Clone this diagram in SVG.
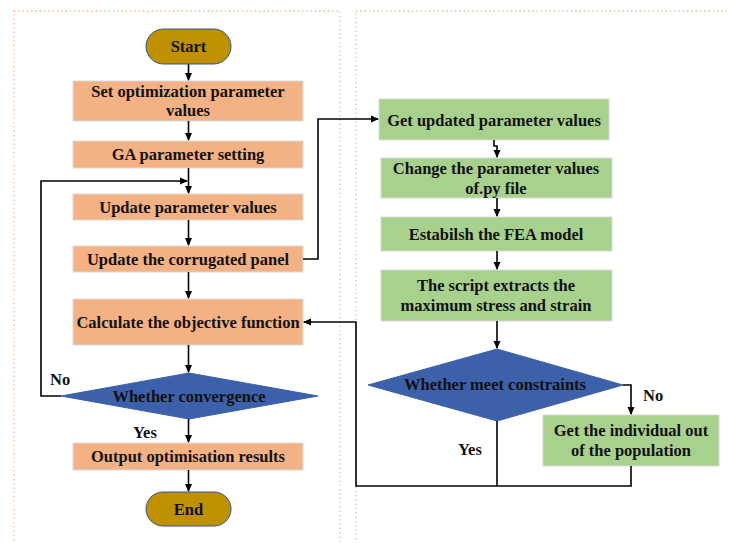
<svg xmlns="http://www.w3.org/2000/svg" width="729" height="543" viewBox="0 0 729 543">
<defs>
<marker id="ah" markerWidth="8" markerHeight="8" refX="7" refY="4" orient="auto" markerUnits="userSpaceOnUse">
<path d="M0,0.5 L8,4 L0,7.5 Z" fill="#000"/>
</marker>
<style>
text{font-family:"Liberation Serif","Times New Roman",serif;font-weight:bold;font-size:16.5px;fill:#111;text-anchor:middle;}
.o{fill:#F4B183;stroke:#d9d9d9;stroke-width:1;}
.g{fill:#A9D18E;stroke:#d9d9d9;stroke-width:1;}
.d{fill:#3C60AA;stroke:#3C60AA;stroke-width:1;}
.p{fill:#BF9000;stroke:#2F5597;stroke-width:1;}
.c{fill:none;stroke:#000;stroke-width:1.6;}
.lbl{text-anchor:start;}
</style>
</defs>
<rect x="14" y="11" width="326" height="545" fill="none" stroke="#F4B183" stroke-width="1.3" stroke-dasharray="1.3,3"/>
<rect x="356" y="11" width="390" height="545" fill="none" stroke="#A9D18E" stroke-width="1.3" stroke-dasharray="1.3,3"/>

<g id="start"><rect class="p" x="146" y="29" width="85" height="35" rx="17.5"/><text x="188.5" y="52">Start</text></g>
<g id="setopt"><rect class="o" x="73" y="81" width="230" height="40"/><text x="188" y="97">Set optimization parameter</text><text x="188" y="116">values</text></g>
<g id="ga"><rect class="o" x="73" y="141" width="230" height="27"/><text x="188" y="160">GA parameter setting</text></g>
<g id="update"><rect class="o" x="73" y="194" width="230" height="26"/><text x="188" y="213">Update parameter values</text></g>
<g id="panel"><rect class="o" x="73" y="246" width="230" height="26"/><text x="188" y="265">Update the corrugated panel</text></g>
<g id="objective"><rect class="o" x="73" y="299" width="230" height="46"/><text x="188" y="328">Calculate the objective function</text></g>
<g id="convergence"><polygon class="d" points="61,396 189,373 318,396 189,419"/><text x="189" y="402">Whether convergence</text></g>
<g id="output"><rect class="o" x="73" y="443" width="230" height="27"/><text x="188" y="462">Output optimisation results</text></g>
<g id="end"><rect class="p" x="146" y="492" width="85" height="34" rx="17"/><text x="188.5" y="515">End</text></g>

<g id="getupdated"><rect class="g" x="379" y="99" width="230" height="41"/><text x="494" y="126">Get updated parameter values</text></g>
<g id="change"><rect class="g" x="381" y="158" width="231" height="40"/><text x="496" y="174">Change the parameter values</text><text x="496" y="194">of.py file</text></g>
<g id="fea"><rect class="g" x="381" y="217" width="231" height="34"/><text x="496" y="240">Estabilsh the FEA model</text></g>
<g id="script"><rect class="g" x="381" y="270" width="231" height="51"/><text x="496" y="291">The script extracts the</text><text x="496" y="311">maximum stress and strain</text></g>
<g id="constraints"><polygon class="d" points="368,385 497,349 623,385 497,421"/><text x="495" y="390">Whether meet constraints</text></g>
<g id="individual"><rect class="g" x="543" y="415" width="176" height="51"/><text x="631" y="436">Get the individual out</text><text x="631" y="456">of the population</text></g>

<g id="connectors">
<path class="c" d="M188.5,64 V80" marker-end="url(#ah)"/>
<path class="c" d="M188.5,121 V140" marker-end="url(#ah)"/>
<path class="c" d="M188.5,168 V193" marker-end="url(#ah)"/>
<path class="c" d="M188.5,220 V245" marker-end="url(#ah)"/>
<path class="c" d="M188.5,272 V298" marker-end="url(#ah)"/>
<path class="c" d="M188.5,345 V372" marker-end="url(#ah)"/>
<path class="c" d="M188.5,419 V442" marker-end="url(#ah)"/>
<path class="c" d="M188.5,470 V491" marker-end="url(#ah)"/>
<path class="c" d="M61,396 H41 V181 H187" marker-end="url(#ah)"/>
<path class="c" d="M303,259 H318 V119 H378" marker-end="url(#ah)"/>
<path class="c" d="M494,140 V146 H497 V157" marker-end="url(#ah)"/>
<path class="c" d="M497,198 V216" marker-end="url(#ah)"/>
<path class="c" d="M497,251 V269" marker-end="url(#ah)"/>
<path class="c" d="M497,321 V348" marker-end="url(#ah)"/>
<path class="c" d="M623,385 H631 V414" marker-end="url(#ah)"/>
<path class="c" d="M497,421 V486"/>
<path class="c" d="M631,466 V486 H356 V322 H304" marker-end="url(#ah)"/>
<text class="lbl" x="50" y="385">No</text>
<text class="lbl" x="133" y="438">Yes</text>
<text class="lbl" x="643" y="401">No</text>
<text class="lbl" x="458" y="455">Yes</text>
</g>
</svg>
